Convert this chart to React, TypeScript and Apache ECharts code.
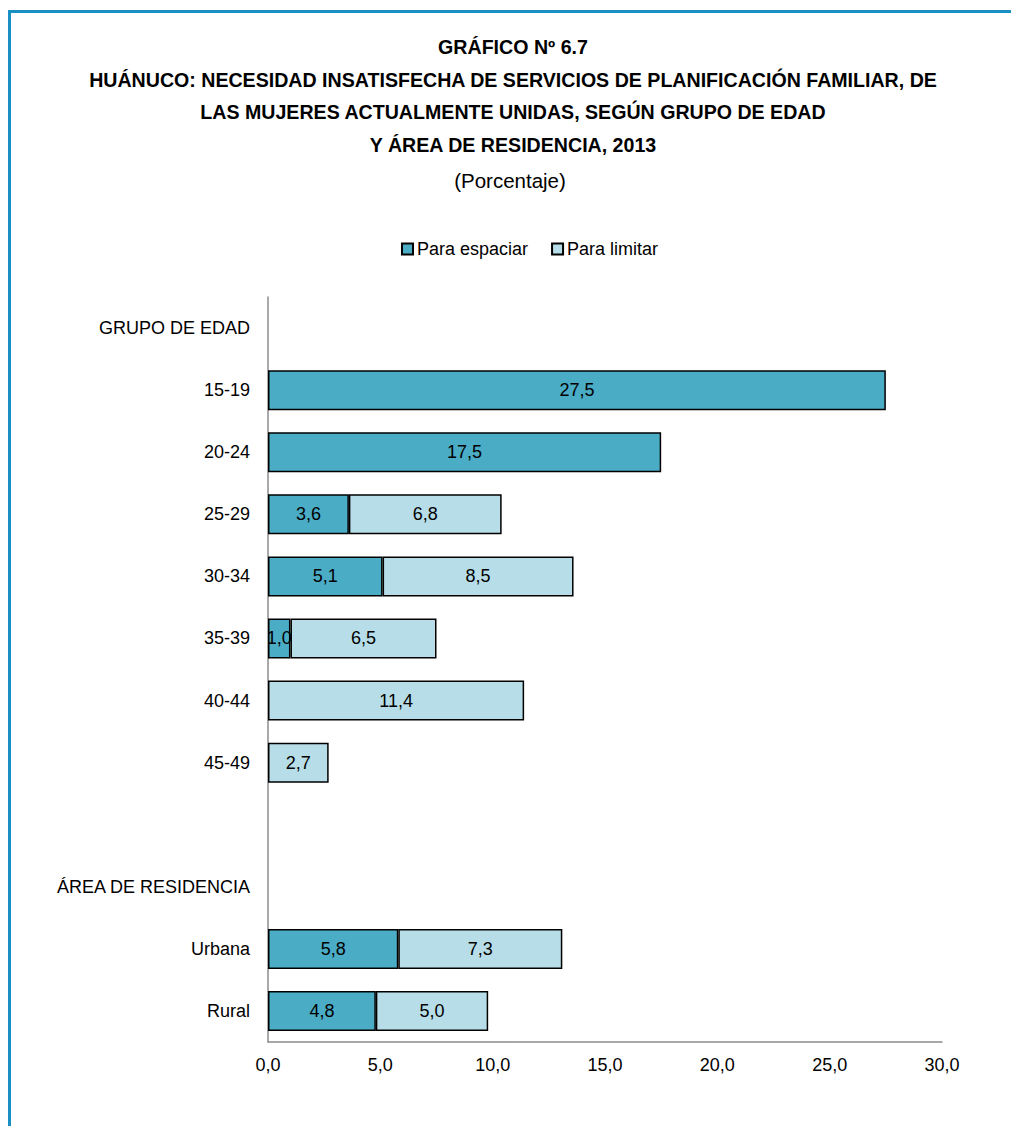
import React, { useEffect, useRef } from 'react';
import * as echarts from 'echarts';

const categories = ['GRUPO DE EDAD', '15-19', '20-24', '25-29', '30-34', '35-39', '40-44', '45-49', '', 'ÁREA DE RESIDENCIA', 'Urbana', 'Rural'];
const paraEspaciar: (number | null)[] = [null, 27.5, 17.5, 3.6, 5.1, 1.0, null, null, null, null, 5.8, 4.8];
const paraLimitar: (number | null)[] = [null, null, null, 6.8, 8.5, 6.5, 11.4, 2.7, null, null, 7.3, 5.0];
const seriesNames = ['Para espaciar', 'Para limitar'];
const titleLines = [
  'GRÁFICO Nº 6.7',
  'HUÁNUCO: NECESIDAD INSATISFECHA DE SERVICIOS DE PLANIFICACIÓN FAMILIAR, DE',
  'LAS MUJERES ACTUALMENTE UNIDAS, SEGÚN GRUPO DE EDAD',
  'Y ÁREA DE RESIDENCIA, 2013',
];
const subtitle = '(Porcentaje)';

const FONT = "'Liberation Sans Narrow', 'Arial Narrow', 'Liberation Sans', Arial, sans-serif";
const fmt = (v: number) => v.toFixed(1).replace('.', ',');

export default function App() {
  const ref = useRef<HTMLDivElement>(null);
  useEffect(() => {
    document.body.style.margin = '0';
    const chart = echarts.init(ref.current!, null, { renderer: 'svg' });
    const titleY = [47, 80, 112, 145];
    const graphics: any[] = [
      { type: 'line', shape: { x1: 9.5, y1: 11.5, x2: 1011, y2: 11.5 }, style: { stroke: '#1a8fc4', lineWidth: 3 } },
      { type: 'line', shape: { x1: 9.5, y1: 10, x2: 9.5, y2: 1126 }, style: { stroke: '#1a8fc4', lineWidth: 3 } },
      ...titleLines.map((t, i) => ({
        type: 'text', x: 513, y: titleY[i], scaleX: 0.98,
        style: { text: t, fontFamily: FONT, fontSize: 20, fontWeight: 'bold', fill: '#000', textAlign: 'center', textVerticalAlign: 'middle' },
      })),
      {
        type: 'text', x: 510, y: 180,
        style: { text: subtitle, fontFamily: FONT, fontSize: 20.5, fill: '#000', textAlign: 'center', textVerticalAlign: 'middle' },
      },
    ];
    const labelCfg = {
      show: true, position: 'inside', color: '#000', fontFamily: FONT, fontSize: 18,
      formatter: (p: any) => (p.value == null ? '' : fmt(p.value)),
    };
    chart.setOption({
      animation: false,
      graphic: graphics,
      legend: {
        data: seriesNames, left: 401, top: 240, padding: 0, itemWidth: 11, itemHeight: 11, itemGap: 23,
        icon: 'rect',
        textStyle: { fontFamily: FONT, fontSize: 18, color: '#000', padding: [0, 0, 0, -1] },
      },
      grid: { left: 268, right: 69, top: 297, bottom: 84 },
      xAxis: {
        type: 'value', min: 0, max: 30, interval: 5,
        axisLine: { show: true, lineStyle: { color: '#8c8c8c', width: 1.5 } },
        axisTick: { show: false }, splitLine: { show: false },
        axisLabel: { formatter: (v: number) => fmt(v), fontFamily: FONT, fontSize: 18, color: '#000', margin: 14 },
      },
      yAxis: {
        type: 'category', data: categories, inverse: true,
        axisLine: { show: true, lineStyle: { color: '#8c8c8c', width: 1.5 } },
        axisTick: { show: false },
        axisLabel: { fontFamily: FONT, fontSize: 18, color: '#000', margin: 18 },
      },
      series: [
        {
          name: seriesNames[0], type: 'bar', stack: 'a', data: paraEspaciar, barWidth: 40,
          itemStyle: { color: '#4BACC6', borderColor: '#000', borderWidth: 1.5 },
          label: labelCfg,
        },
        {
          name: seriesNames[1], type: 'bar', stack: 'a', data: paraLimitar, barWidth: 40,
          itemStyle: { color: '#B7DEE8', borderColor: '#000', borderWidth: 1.5 },
          label: labelCfg,
        },
      ],
    });
    return () => chart.dispose();
  }, []);
  return <div ref={ref} style={{ width: 1011, height: 1126 }} />;
}
